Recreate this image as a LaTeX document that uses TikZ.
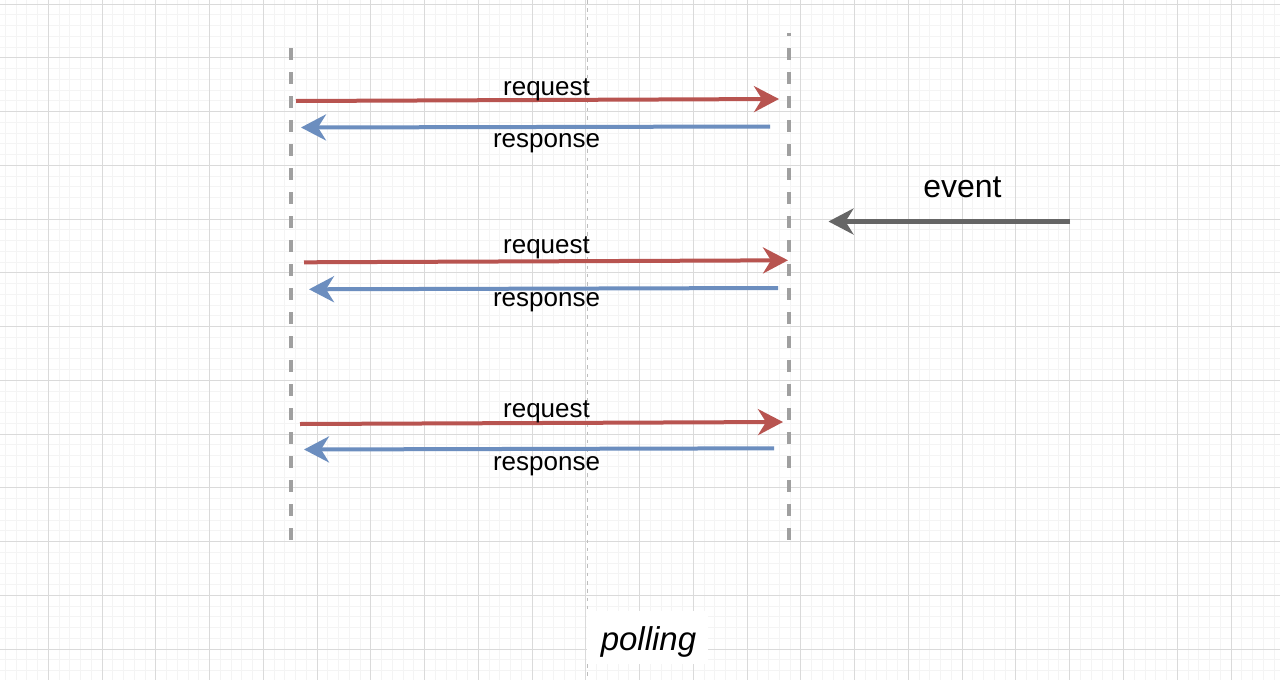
\documentclass[tikz,border=0pt]{standalone}
\usepackage{fontspec}
\setmainfont{Liberation Sans}
\usetikzlibrary{arrows.meta}
\definecolor{gridminor}{HTML}{F4F4F4}
\definecolor{gridmajor}{HTML}{DADADA}
\definecolor{reqred}{HTML}{B85450}
\definecolor{respblue}{HTML}{6C8EBF}
\definecolor{evgray}{HTML}{666666}
\definecolor{lifegray}{HTML}{A0A0A0}
\definecolor{centergray}{HTML}{BDBDBD}
\tikzset{
  tipstyle/.style={-{Stealth[length=25pt,width=26pt,inset=8pt]}},
  reqarrow/.style={tipstyle, draw=reqred, fill=reqred, line width=4pt},
  resparrow/.style={tipstyle, draw=respblue, fill=respblue, line width=4pt},
  evarrow/.style={tipstyle, draw=evgray, fill=evgray, line width=4.5pt},
  lifeline/.style={draw=lifegray, line width=4pt, dash pattern=on 12pt off 12pt},
  centerline/.style={draw=centergray, line width=1pt, dash pattern=on 3.5pt off 4.8pt},
  lbl/.style={font=\fontsize{26}{30}\selectfont, inner sep=0pt, anchor=base},
  biglbl/.style={font=\fontsize{32}{38}\selectfont, inner sep=0pt, anchor=base},
  pollbox/.style={fill=white, draw=none, minimum width=121pt, minimum height=53pt, inner sep=0pt}
}
\begin{document}
\begin{tikzpicture}[x=1pt,y=-1pt]
\useasboundingbox (0,0) rectangle (1280,680);
\fill[white] (0,0) rectangle (1280,680);
\begin{scope}
\clip (0,0) rectangle (1280,680);
% minor grid
\foreach \i in {-5,...,114} {\draw[gridminor, line width=1pt] ({48.3+10.752*\i},0) -- ({48.3+10.752*\i},680);}
\foreach \i in {0,...,63} {\draw[gridminor, line width=1pt] (0,{4+10.752*\i}) -- (1280,{4+10.752*\i});}
% major grid
\foreach \i in {-1,...,23} {\draw[gridmajor, line width=1pt] ({48.3+53.76*\i},0) -- ({48.3+53.76*\i},680);}
\foreach \i in {0,...,12} {\draw[gridmajor, line width=1pt] (0,{4+53.76*\i}) -- (1280,{4+53.76*\i});}
\end{scope}

% center dashed line
\coordinate (ctop) at (587,0);
\coordinate (cbot) at (587,680);
\draw[centerline] (ctop) -- (cbot);

% lifelines
\coordinate (ltop) at (291,48);
\coordinate (lbot) at (291,543);
\coordinate (rtop) at (789,33);
\coordinate (rbot) at (789,543);
\draw[lifeline] (ltop) -- (lbot);
\draw[lifeline, dash phase=9pt] (rtop) -- (rbot);

% row 1
\coordinate (rq1s) at (296,101);
\coordinate (rq1e) at (779,99);
\coordinate (rs1s) at (770,126.5);
\coordinate (rs1e) at (301,127.5);
\draw[reqarrow] (rq1s) -- (rq1e);
\draw[resparrow] (rs1s) -- (rs1e);
\node[lbl] (lrq1) at (546.5,95) {request};
\node[lbl] (lrs1) at (546.5,147) {response};

% row 2
\coordinate (rq2s) at (304,262.3);
\coordinate (rq2e) at (788,260.3);
\coordinate (rs2s) at (778,288);
\coordinate (rs2e) at (309,289.3);
\draw[reqarrow] (rq2s) -- (rq2e);
\draw[resparrow] (rs2s) -- (rs2e);
\node[lbl] (lrq2) at (546.5,253.5) {request};
\node[lbl] (lrs2) at (546.5,306) {response};

% row 3
\coordinate (rq3s) at (300,424);
\coordinate (rq3e) at (783,422);
\coordinate (rs3s) at (774,448.3);
\coordinate (rs3e) at (304,449.5);
\draw[reqarrow] (rq3s) -- (rq3e);
\draw[resparrow] (rs3s) -- (rs3e);
\node[lbl] (lrq3) at (546.5,417) {request};
\node[lbl] (lrs3) at (546.5,470) {response};

% event
\coordinate (evs) at (1070,221.5);
\coordinate (eve) at (828.5,221.5);
\draw[evarrow] (evs) -- (eve);
\node[biglbl] (levent) at (962.5,197.5) {event};

% polling label
\node[pollbox] (pollbg) at (647.5,637.5) {};
\node[font=\fontsize{33}{40}\selectfont\itshape, inner sep=0pt, anchor=base] (polling) at (648.5,650) {polling};
\end{tikzpicture}
\end{document}
